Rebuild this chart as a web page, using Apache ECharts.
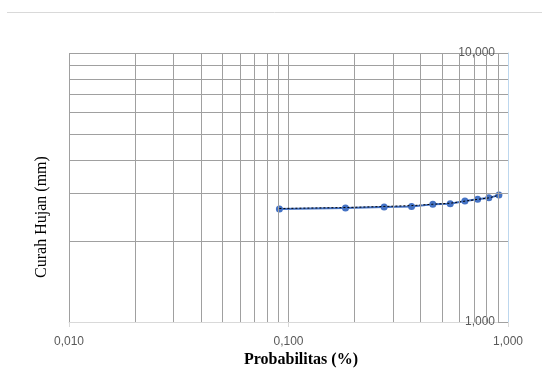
<!DOCTYPE html>
<html>
<head>
<meta charset="utf-8">
<script src="https://cdn.jsdelivr.net/npm/echarts@6/dist/echarts.min.js"></script>
<style>html,body{margin:0;padding:0;background:#fff;}#c{width:542px;height:380px;}</style>
</head>
<body>
<div id="c"></div>
<script>
const probs = [0.0909, 0.1818, 0.2727, 0.3636, 0.4545, 0.5455, 0.6364, 0.7273, 0.8182, 0.9091];
const rain = [2633, 2656, 2679, 2688, 2737, 2753, 2818, 2859, 2894, 2963];
const trendRain = [2642, 2664, 2688, 2708, 2740, 2764, 2814, 2857, 2893, 2960];
const xMinorGrid = [0.02, 0.03, 0.04, 0.05, 0.06, 0.07, 0.08, 0.09, 0.2, 0.3, 0.4, 0.5, 0.6, 0.7, 0.8, 0.9];
const yMinorGrid = [2000, 3000, 4000, 5000, 6000, 7000, 8000, 9000];
const xTickValues = [0.01, 0.1, 1];
const xTickLabels = ['0,010', '0,100', '1,000'];
const yTickValues = [1000, 10000];
const yTickLabels = ['1,000', '10,000'];

const gridColor = '#a0a0a0';
const chart = echarts.init(document.getElementById('c'));
chart.setOption({
  animation: false,
  grid: {left: 69, top: 53, width: 439, height: 269, containLabel: false},
  graphic: [
    {type: 'line', shape: {x1: 7, y1: 12.5, x2: 542, y2: 12.5}, style: {stroke: '#d9d9d9', lineWidth: 1}},
    {type: 'text', x: 42, y: 217, rotation: Math.PI / 2, style: {text: 'Curah Hujan (mm)', font: '16px "Liberation Serif"', fill: '#000', textAlign: 'center', textVerticalAlign: 'middle'}},
    {type: 'text', x: 301, y: 360, style: {text: 'Probabilitas (%)', font: 'bold 16px "Liberation Serif"', fill: '#000', textAlign: 'center', textVerticalAlign: 'middle'}}
  ],
  xAxis: {
    type: 'log', logBase: 10, min: 0.01, max: 1,
    axisLine: {show: true, lineStyle: {color: '#d9d9d9'}},
    axisTick: {show: true, length: 5, lineStyle: {color: '#d9d9d9'}},
    axisLabel: {color: '#595959', fontSize: 12, fontFamily: 'Liberation Sans', margin: 14,
      formatter: v => { const i = xTickValues.findIndex(t => Math.abs(t - v) / t < 1e-6); return i >= 0 ? xTickLabels[i] : ''; }},
    splitLine: {show: true, lineStyle: {color: gridColor, width: 1}}
  },
  yAxis: {
    type: 'log', logBase: 10, min: 1000, max: 10000, position: 'right',
    axisLine: {show: true, lineStyle: {color: '#bdd7ee'}},
    axisTick: {show: true, inside: true, length: 10, lineStyle: {color: '#a0a0a0'}},
    axisLabel: {inside: true, color: '#595959', fontSize: 12, fontFamily: 'Liberation Sans', margin: 13,
      formatter: v => { const i = yTickValues.findIndex(t => Math.abs(t - v) / t < 1e-6); return i >= 0 ? yTickLabels[i] : ''; }},
    splitLine: {show: true, lineStyle: {color: gridColor, width: 1}}
  },
  series: [
    {
      type: 'line', name: 'grid', data: [], silent: true,
      markLine: {
        silent: true, symbol: 'none', label: {show: false}, animation: false,
        lineStyle: {color: gridColor, width: 1, type: 'solid'},
        data: xMinorGrid.map(v => ({xAxis: v})).concat(yMinorGrid.map(v => ({yAxis: v})))
      }
    },
    {
      type: 'line', name: 'data', data: probs.map((p, i) => [p, rain[i]]),
      symbol: 'circle', symbolSize: 7,
      lineStyle: {color: '#4472c4', width: 2},
      itemStyle: {color: '#4472c4'}, z: 3
    },
    {
      type: 'line', name: 'trend', data: probs.map((p, i) => [p, trendRain[i]]),
      symbol: 'none', lineStyle: {color: '#000', width: 1, type: [2, 2]}, z: 4
    }
  ]
});
</script>
</body>
</html>
